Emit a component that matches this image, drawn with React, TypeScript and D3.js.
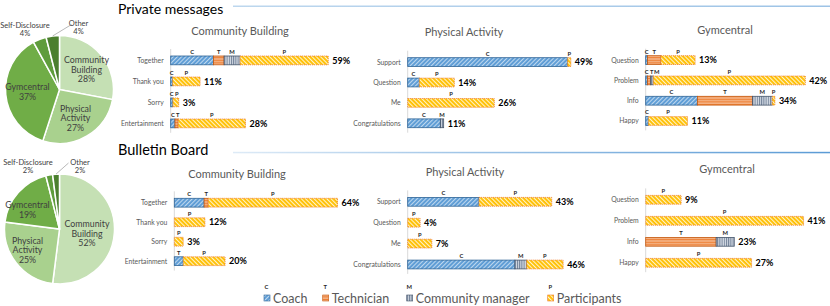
import React from 'react'
import * as d3 from 'd3'

// roles: C = Coach, T = Technician, M = Community manager, P = Participants
const roleKeys = ['C', 'T', 'M', 'P']
const roleNames = ['Coach', 'Technician', 'Community manager', 'Participants']

const cbCats = ['Together', 'Thank you', 'Sorry', 'Entertainment']
const paCats = ['Support', 'Question', 'Me', 'Congratulations']
const gymCats = ['Question', 'Problem', 'Info', 'Happy']

// pie shares (%)
const pieCats = ['Community Building', 'Physical Activity', 'Gymcentral', 'Self-Disclosure', 'Other']
const pmShares = [28, 27, 37, 4, 4]
const bbShares = [52, 25, 19, 2, 2]

// stacked values per row: [C, T, M, P]
const pmCB = [[16, 4, 6, 33], [0.7, 0, 0, 10.3], [0.8, 0, 0, 2.2], [1.6, 1.2, 0, 25.2]]
const pmCBTotals = [59, 11, 3, 28]
const pmCBLetters = ['CTMP', 'CP', 'CP', 'CTP']

const pmPA = [[48, 0, 0, 1], [3.5, 0, 0, 10.5], [0, 0, 0, 26], [9.8, 0, 1, 0]]
const pmPATotals = [49, 14, 26, 11]
const pmPALetters = ['CP', 'CP', 'P', 'CM']

const pmGym = [[0.5, 3.5, 0, 9], [0.5, 0.8, 0.7, 40], [13.6, 14.5, 5.2, 0.7], [0.7, 0, 0, 10.3]]
const pmGymTotals = [13, 42, 34, 11]
const pmGymLetters = ['CTP', 'CTMP', 'CTMP', 'CP']

const bbCB = [[11.7, 1.6, 0, 50.7], [0, 0, 0, 12], [0, 0, 0, 3.5], [3.5, 0, 0, 16.4]]
const bbCBTotals = [64, 12, 3, 20]
const bbCBLetters = ['CTP', 'P', 'P', 'TP']

const bbPA = [[21.3, 0, 0, 21.7], [0, 0, 0, 3.7], [0, 0, 0, 7.2], [32, 0, 3.5, 10.9]]
const bbPATotals = [43, 4, 7, 46]
const bbPALetters = ['CP', 'P', 'P', 'CMP']

const bbGym = [[0, 0, 0, 9.2], [0, 0, 0, 41], [0, 18.3, 4.7, 0], [0, 0, 0, 27.5]]
const bbGymTotals = [9, 41, 23, 27]
const bbGymLetters = ['P', 'P', 'TM', 'P']

const FONT = 'Lato, "Liberation Sans", sans-serif'
const pieColors = ['#c5e0b4', '#a9d18e', '#70ad47', '#5f9c3c', '#4b7f2e']
const fills = ['url(#pC)', 'url(#pT)', 'url(#pM)', 'url(#pP)']
const borders = ['#2f6496', '#c55a11', '#44546a', '#ed7d31']

function Pie({ cx, cy, r, shares, labels, otherLabel }: any) {
  const arcs = d3.pie<number>().sort(null).value(d => d)(shares)
  const arc = d3.arc<any>().innerRadius(0).outerRadius(r)
  const last = arcs[arcs.length - 1]
  const mid = (last.startAngle + last.endAngle) / 2
  const ex = Math.sin(mid) * r, ey = -Math.cos(mid) * r
  return (
    <g transform={`translate(${cx},${cy})`}>
      {arcs.map((a, i) => (
        <path key={i} d={arc(a) as string} fill={pieColors[i]} stroke="#fff" strokeWidth={1.5} />
      ))}
      <line x1={otherLabel[0]} y1={otherLabel[1]} x2={ex} y2={ey} stroke="#a6a6a6" strokeWidth={0.8} />
      {labels.map((l: any, i: number) => (
        <text key={i} x={l.x} y={l.y} textAnchor="middle" fontSize={l.size} fill="#404040">
          {l.lines.map((s: string, j: number) => (
            <tspan key={j} x={l.x} dy={j === 0 ? 0 : l.size * 1.1}>{s}</tspan>
          ))}
        </text>
      ))}
    </g>
  )
}

function pieText(shares: number[], pos: number[][]) {
  return pieCats.map((c, i) => {
    const words = c === 'Self-Disclosure' || c === 'Other' || c === 'Gymcentral' ? [c] : c.split(' ')
    const outside = i >= 3
    return { x: pos[i][0], y: pos[i][1], size: outside ? 7.5 : 8.8, lines: [...words, shares[i] + '%'] }
  })
}

function Panel({ title, titleX, titleY, cats, values, totals, letters, x0, k, top, step }: any) {
  const bw = 8.8
  const x = d3.scaleLinear().domain([0, 1]).range([x0, x0 + k])
  const pad = (step - bw) / step
  const y = d3.scaleBand<string>()
    .domain(cats)
    .range([top - (step - bw) / 2, top - (step - bw) / 2 + cats.length * step])
    .paddingInner(pad)
    .paddingOuter(pad / 2)
  const yTop = (y(cats[0]) as number) - 7
  const yBot = (y(cats[cats.length - 1]) as number) + bw + 5
  return (
    <g>
      <text x={titleX} y={titleY} textAnchor="middle" fontSize={11} fill="#595959">{title}</text>
      <line x1={x0} x2={x0} y1={yTop} y2={yBot} stroke="#d9d9d9" strokeWidth={1} />
      {cats.map((c: string, i: number) => {
        const yy = y(c) as number
        let acc = 0
        const segs: any[] = []
        values[i].forEach((v: number, j: number) => {
          if (v > 0) segs.push({ j, s: acc, e: acc + v })
          acc += v
        })
        // letter positions, pushed right to avoid overlap
        let prev = -Infinity
        const lx = segs.map(sg => {
          let p = (x(sg.s) + x(sg.e)) / 2
          if (p < prev + 5) p = prev + 5
          prev = p
          return p
        })
        return (
          <g key={c}>
            <text x={x0 - 7} y={yy + bw / 2 + 2.4} textAnchor="end" fontSize={6.8} fill="#595959">{c}</text>
            {segs.map((sg, n) => (
              <rect key={n} x={x(sg.s)} y={yy} width={x(sg.e) - x(sg.s)} height={bw}
                fill={fills[sg.j]} stroke={borders[sg.j]} strokeWidth={0.8}
                strokeDasharray={sg.j === 3 ? '1.2,0.8' : undefined} />
            ))}
            {segs.map((sg, n) => (
              <text key={'l' + n} x={lx[n]} y={yy - 2.2} textAnchor="middle" fontSize={5.8}
                fontWeight="bold" fill="#262626">{letters[i][n]}</text>
            ))}
            <text x={x(acc) + 4} y={yy + bw / 2 + 3.2} fontSize={9} fontWeight="bold" fill="#000">
              {totals[i]}%
            </text>
          </g>
        )
      })}
    </g>
  )
}

export default function App() {
  const legendX = [264, 322.7, 406.7, 547.7]
  return (
    <div style={{ position: 'absolute', left: 0, top: 0 }}>
      <svg width={830} height={306} style={{ display: 'block', fontFamily: FONT }}>
        <defs>
          <pattern id="pC" patternUnits="userSpaceOnUse" width={3} height={3} patternTransform="rotate(45)">
            <rect width={3} height={3} fill="#5b9bd5" />
            <rect width={1.1} height={3} fill="#bdd7ee" />
          </pattern>
          <pattern id="pT" patternUnits="userSpaceOnUse" width={3} height={2.6}>
            <rect width={3} height={2.6} fill="#f4b183" />
            <rect width={3} height={1} fill="#ed7d31" />
          </pattern>
          <pattern id="pM" patternUnits="userSpaceOnUse" width={2.2} height={3}>
            <rect width={2.2} height={3} fill="#d6dce5" />
            <rect width={1} height={3} fill="#6f7f96" />
          </pattern>
          <pattern id="pP" patternUnits="userSpaceOnUse" width={3} height={3} patternTransform="rotate(-45)">
            <rect width={3} height={3} fill="#ffc000" />
            <rect width={1.1} height={3} fill="#fff2cc" />
          </pattern>
          <linearGradient id="g1" x1="0" x2="1">
            <stop offset="0" stopColor="#bdd7ee" />
            <stop offset="1" stopColor="#9dc3e6" />
          </linearGradient>
          <linearGradient id="g2" x1="0" x2="1">
            <stop offset="0" stopColor="#deebf7" />
            <stop offset="0.4" stopColor="#9dc3e6" />
            <stop offset="1" stopColor="#5b9bd5" />
          </linearGradient>
        </defs>

        <text x={118} y={13.5} fontSize={14} fill="#000">Private messages</text>
        <rect x={233} y={5.5} width={597} height={1.5} fill="url(#g1)" />
        <text x={118} y={155} fontSize={14.5} fill="#000">Bulletin Board</text>
        <rect x={233} y={151.8} width={597} height={1.5} fill="url(#g2)" />

        <Pie cx={59.5} cy={89.5} r={54} shares={pmShares} otherLabel={[12, -65]}
          labels={pieText(pmShares, [[27, -26.5], [16, 22], [-32, 0.5], [-34.5, -62], [19, -64]])} />
        <Pie cx={59.5} cy={229} r={55} shares={bbShares} otherLabel={[9, -66]}
          labels={pieText(bbShares, [[27.5, -2], [-32, 14.5], [-32, -21], [-31.5, -64], [20.5, -64]])} />

        <Panel title="Community Building" titleX={240} titleY={34.5} cats={cbCats} values={pmCB}
          totals={pmCBTotals} letters={pmCBLetters} x0={170.7} k={2.67} top={56} step={21} />
        <Panel title="Physical Activity" titleX={464} titleY={36} cats={paCats} values={pmPA}
          totals={pmPATotals} letters={pmPALetters} x0={407.7} k={3.33} top={57.7} step={20.4} />
        <Panel title="Gymcentral" titleX={725} titleY={34} cats={gymCats} values={pmGym}
          totals={pmGymTotals} letters={pmGymLetters} x0={645.7} k={3.8} top={55.7} step={20.3} />

        <Panel title="Community Building" titleX={237} titleY={178} cats={cbCats} values={bbCB}
          totals={bbCBTotals} letters={bbCBLetters} x0={174.3} k={2.55} top={198.3} step={19.5} />
        <Panel title="Physical Activity" titleX={465} titleY={176} cats={paCats} values={bbPA}
          totals={bbPATotals} letters={bbPALetters} x0={407.7} k={3.35} top={197.4} step={20.9} />
        <Panel title="Gymcentral" titleX={727} titleY={173} cats={gymCats} values={bbGym}
          totals={bbGymTotals} letters={bbGymLetters} x0={645.7} k={3.85} top={195.4} step={21} />

        {roleKeys.map((r, i) => (
          <g key={r}>
            <text x={legendX[i] + 2.5} y={289} textAnchor="middle" fontSize={5.8} fontWeight="bold" fill="#262626">{r}</text>
            <rect x={legendX[i]} y={295} width={6} height={6} fill={fills[i]} stroke={borders[i]} strokeWidth={0.6} />
            <text x={legendX[i] + 9} y={303} fontSize={12.5} fill="#595959">{roleNames[i]}</text>
          </g>
        ))}
      </svg>
    </div>
  )
}
